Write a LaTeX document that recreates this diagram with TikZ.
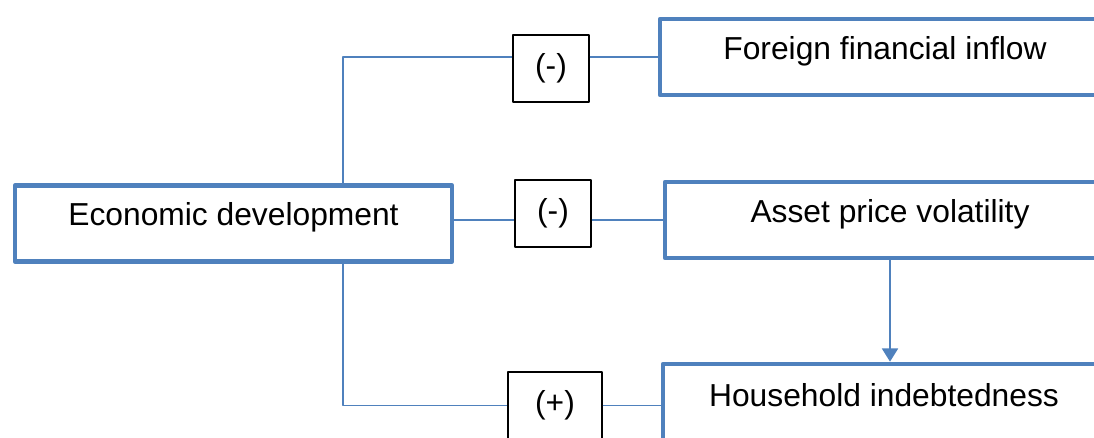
\documentclass[tikz,border=0pt]{standalone}
\usepackage{fontspec}
\setmainfont{Liberation Sans}
\usetikzlibrary{arrows.meta}
\definecolor{boxblue}{HTML}{4F81BD}
\begin{document}
\begin{tikzpicture}[x=.25mm,y=-.25mm,>={Triangle[width=4mm,length=3.3mm]}, font=\fontsize{22.6}{27}\selectfont, line join=round,
	factor/.style={draw=boxblue,line width=3.3pt,fill=white,minimum height=19mm,text height=.75em,text depth=.45em,inner sep=0pt},
	sign/.style={draw,line width=.9pt,fill=white,minimum width=19mm,minimum height=16.75mm,inner sep=0pt},
	link/.style={boxblue,line width=1.3pt}]
	\def\xmax{1094} \def\ymax{437}
	\clip (0,0) rectangle (\xmax,\ymax);
	%factors
	\node[factor,minimum width=109.25mm] (econ) at (233.5,223.5) {Economic development};
	\node[factor,minimum width=112.5mm] (foreign) at (885,57) {Foreign financial inflow};
	\node[factor,minimum width=112.5mm] (asset) at (890,220) {Asset price volatility};
	\node[factor,minimum width=110.5mm,minimum height=20mm] (house) at (884,404) {Household indebtedness};
	%signs of the effects
	\node[sign] (neg1) at (551,68.5) {(-)};
	\node[sign] (neg2) at (553,213.5) {(-)};
	\node[sign,minimum width=23.5mm] (pos) at (555,405.5) {(+)};
	\coordinate (fork) at (343,223.5);
	%links
	\draw[link] (fork |- econ.north) |- (neg1.west |- foreign.west);
	\draw[link] (neg1.east |- foreign.west) -- (foreign.west);
	\draw[link] (econ.east |- asset.west) -- (neg2.west |- asset.west);
	\draw[link] (neg2.east |- asset.west) -- (asset.west);
	\draw[link] (fork |- econ.south) |- (pos.west);
	\draw[link] (pos.east) -- (pos.east -| house.west);
	\draw[link,->] (asset.south) -- (asset.south |- house.north);
\end{tikzpicture}
\end{document}
